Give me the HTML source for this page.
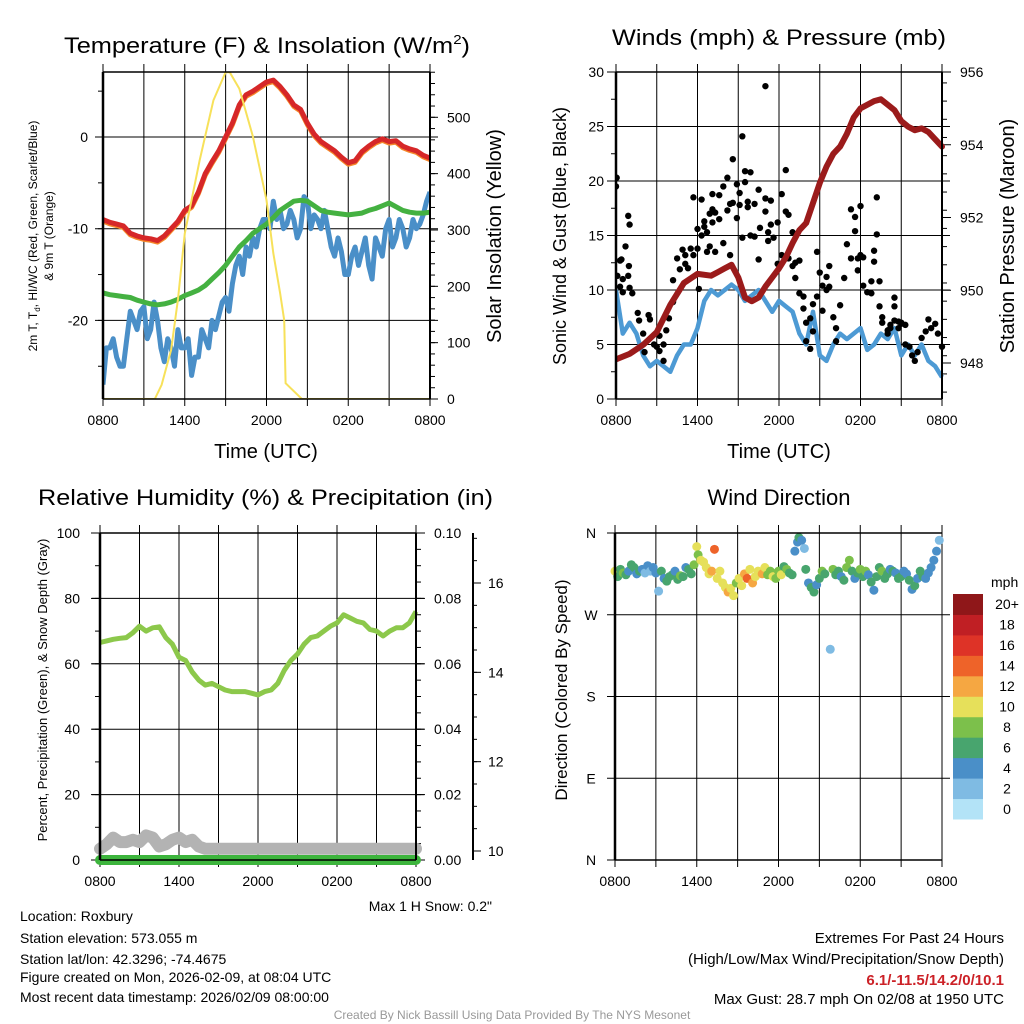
<!DOCTYPE html>
<html><head><meta charset="utf-8"><style>
html,body{margin:0;padding:0;background:#fff}
svg{display:block;font-family:"Liberation Sans",Arial,sans-serif}
</style></head><body>
<svg id="fig" width="1024" height="1024" viewBox="0 0 1024 1024" xmlns="http://www.w3.org/2000/svg">
<g>
<text x="64" y="53" font-size="22" textLength="406" lengthAdjust="spacingAndGlyphs">Temperature (F) &amp; Insolation (W/m<tspan font-size="13" dy="-9">2</tspan><tspan dy="9">)</tspan></text>
<text x="612" y="45" font-size="22" textLength="334" lengthAdjust="spacingAndGlyphs">Winds (mph) &amp; Pressure (mb)</text>
<text x="38" y="505" font-size="22" textLength="455" lengthAdjust="spacingAndGlyphs">Relative Humidity (%) &amp; Precipitation (in)</text>
<text x="779" y="505" font-size="22" text-anchor="middle">Wind Direction</text>
</g>
<g id="p1"></g>
<g id="p2"></g>
<g id="p3"></g>
<g id="p4"></g>
<g font-size="14">
<text x="20" y="921">Location: Roxbury</text>
<text x="20" y="943">Station elevation: 573.055 m</text>
<text x="20" y="964">Station lat/lon: 42.3296; -74.4675</text>
<text x="20" y="982">Figure created on Mon, 2026-02-09, at 08:04 UTC</text>
<text x="20" y="1002">Most recent data timestamp: 2026/02/09 08:00:00</text>
<text x="492" y="911" text-anchor="end">Max 1 H Snow: 0.2"</text>
<text x="1004" y="943" text-anchor="end" font-size="15">Extremes For Past 24 Hours</text>
<text x="1004" y="964" text-anchor="end" font-size="15">(High/Low/Max Wind/Precipitation/Snow Depth)</text>
<text x="1004" y="985" text-anchor="end" font-size="15" font-weight="bold" fill="#cc2127">6.1/-11.5/14.2/0/10.1</text>
<text x="1004" y="1004" text-anchor="end" font-size="15">Max Gust: 28.7 mph On 02/08 at 1950 UTC</text>
<text x="512" y="1019" text-anchor="middle" font-size="12" fill="#999">Created By Nick Bassill Using Data Provided By The NYS Mesonet</text>
</g>
</svg>
<script>
// ---- data (hours since 0800 UTC) ----
const xTickLabels = ["0800","1400","2000","0200","0800"];
const halfHours = Array.from({length:49},(_,i)=>i*0.5);
const quarterHours = Array.from({length:97},(_,i)=>i*0.25);
const tempRed = [-9,-9.3,-9.5,-9.7,-10.5,-10.8,-11,-11.1,-11.3,-10.8,-10,-9.2,-8,-7.5,-6,-4,-2.7,-1.5,0,1.5,3.5,4.6,5,5.5,6,6.2,5.5,4.6,3.5,3,1.5,0.3,-0.5,-1,-1.5,-2.2,-2.8,-2.6,-1.6,-1,-0.5,-0.2,-0.5,-0.4,-1,-1.3,-1.5,-2,-2.3];
const dewGreen = [-17,-17.2,-17.3,-17.4,-17.5,-17.8,-18,-18.2,-18.3,-18.2,-18,-17.7,-17.3,-17,-16.7,-16.2,-15.5,-14.8,-14,-13,-12,-11.3,-10.5,-10,-9.5,-8.8,-8,-7.5,-7,-6.9,-7,-7.5,-8,-8.2,-8.3,-8.4,-8.5,-8.4,-8.3,-8,-7.8,-7.5,-7.2,-7.6,-8,-8.2,-8.3,-8.3,-8.2];
const chillBlue = [-27,-23,-23,-22,-24,-25,-25,-22,-19,-20,-21,-19,-18.5,-22,-21,-18,-20,-23,-24.5,-22,-23,-25,-21,-23,-23,-22,-26,-24,-24,-21,-22,-23,-20,-21,-19.5,-18,-17.5,-19,-16,-14,-13,-15,-12,-13,-11,-12,-10,-9,-9,-10,-7,-9,-8,-10,-9.5,-8,-9,-11,-10,-6.5,-7,-10,-8.5,-9,-10,-8,-10,-12,-13,-11,-12.5,-15,-15,-13,-12,-14,-12.5,-11,-14,-15.5,-11,-12,-13,-10,-9,-12,-11,-9,-10,-12,-11,-9,-10,-9.5,-8.5,-7,-6];
const solarTimes = [0,3.8,4.3,5,5.5,6,7.1,8.1,9,9.3,10,11,12,12.5,13,13.3,13.4,14.6,24];
const solarVals = [0,0,25,87,176,294,424,530,580,580,551,466,353,259,188,140,28,0,0];
const presTimes = [0,1,2,3,4,5,6,7,7.5,8,8.5,9,9.5,10,10.5,11,11.5,12,12.5,13,13.5,14,14.5,15,15.5,16,16.5,17,17.5,18,18.5,19,19.5,20,20.5,21,21.5,22,22.5,23,23.5,24];
const presVals = [948.1,948.25,948.5,948.85,949.6,950.2,950.45,950.4,950.5,950.6,950.7,950.35,949.8,949.7,949.8,950.1,950.35,950.6,950.9,951.3,951.65,951.85,952.4,952.95,953.4,953.75,953.95,954.3,954.75,955.0,955.1,955.2,955.25,955.1,954.95,954.65,954.5,954.4,954.45,954.35,954.15,953.95];
const windBlue = [10,6,7,6,4,3,3.5,3,2.5,4,5,5,6.5,9,10,9.5,10,10.5,10,9,9.5,10,9,8,9,8.5,8,6,5,8,4,3.5,5,6,5.5,6,6.5,4.5,5,6,5.5,6.5,4,5,4,5,3.5,3,2];
const gustTimes = [0,0.05,0.1,0.3,0.3,0.4,0.5,0.5,0.7,0.9,0.9,0.95,1,1,1.2,1.6,1.7,2,2.1,2.4,2.5,2.8,3,3.2,3.2,3.5,3.5,3.7,3.9,4.2,4.2,4.5,4.7,4.9,5.1,5.1,5.3,5.5,5.7,5.7,6,6,6.1,6.3,6.3,6.5,6.5,6.7,6.7,6.9,6.9,7.1,7.1,7.1,7.3,7.3,7.6,7.6,7.9,7.9,8.2,8.2,8.4,8.4,8.6,8.6,8.9,8.9,9.1,9.1,9.3,9.3,9.5,9.5,9.7,9.7,9.9,9.9,10.2,10.2,10.5,10.5,10.6,11,11,11,11.2,11.2,11.4,11.4,11.6,11.9,11.9,12.2,12.2,12.5,12.5,12.7,12.7,13,13,13.2,13.2,13.5,13.5,13.8,13.8,14,14,14.3,14.3,14.5,14.5,14.8,14.8,15,15.2,15.2,15.5,15.5,15.7,15.7,16,16.2,16.2,16.5,16.8,17,17.3,17.3,17.6,17.6,17.8,17.8,18,18,18.2,18.2,18.5,18.8,18.8,19,19,19.2,19.2,19.4,19.4,19.6,19.6,20,20,20.2,20.2,20.5,20.5,20.5,20.8,20.8,21,21,21.3,21.3,21.6,21.8,22,22.2,22.5,22.8,23,23.2,23.5,23.7,24];
const gustVals = [19.5,20.3,11.3,12.7,10.3,12.8,9.8,11,14,16.8,11.3,12.2,16,10.2,9.7,7.9,7.2,6.0,4.3,7.7,7.3,5.0,4.8,4.4,5.8,3.5,5.0,6.3,7.4,8.9,10.9,12.9,11.9,13.7,12.4,13.2,12.0,13.8,18.5,13.2,13.8,15.6,10.1,15.0,18.3,16.3,15.8,13.5,15.3,17.0,14.0,18.8,17.4,16.2,17.1,13.5,18.7,16.5,19.5,14.3,17.3,20.3,17.9,13.2,22.0,18.0,19.7,16.6,18.9,17.8,24.1,14.8,20.9,19.9,17.6,18.1,20.8,15.0,17.9,14.9,19.2,12.8,15.7,28.7,18.4,17.2,15.3,14.5,16.0,18.2,14.8,16.2,12.4,13.2,18.8,21.0,17.2,12.9,16.9,12.2,15.3,11.1,12.5,9.7,12.7,8.3,9.4,7.0,5.3,4.6,7.4,6.2,8.7,9.4,13.5,11.6,10.4,8.1,11.2,10.0,12.2,10.3,7.5,6.5,5.3,8.6,11.1,14.2,17.4,12.9,15.4,16.7,11.8,12.9,17.7,13.2,10.4,13.0,9.8,10.8,9.7,13.6,12.6,15.1,18.5,8.5,10.8,7.5,7.0,6.3,6.0,6.8,6.5,7.2,9.3,8.5,6.5,7.1,6.9,7.0,5.0,6.8,4.8,4.0,3.5,4.3,5.6,6.2,7.3,6.5,6.9,6.0,4.8,3.5];
const rhVals = [66.5,67,67.5,67.8,68,69.5,71.5,70,71,71.3,68,66,62,61,57.5,55,53.5,54,53,52,51.5,51.5,51.5,51,50.5,51.5,52,54,58,61,63,66,68,68.5,70,71.5,72.5,75,74,73,72.5,70.5,70,68.5,70,71,71,72.5,76];
const snowTimes = [0,0.5,1,1.5,2,2.5,3,3.5,4,4.5,5,5.5,6,6.5,7,7.5,8,24];
const snowVals = [10.05,10.15,10.3,10.2,10.2,10.25,10.2,10.35,10.3,10.1,10.15,10.25,10.3,10.2,10.25,10.1,10.05,10.05];
const precipVals = [0,0];
const dirTimes = [0,0.2,0.4,0.6,0.8,1,1.2,1.4,1.6,1.8,2,2.2,2.4,2.6,2.8,3,3.2,3.4,3.6,3.8,4,4.2,4.4,4.6,4.8,5,5.2,5.4,5.6,5.8,6,6.1,6.3,6.5,6.7,6.9,7.1,7.3,7.5,7.7,7.9,8.1,8.3,8.5,8.7,8.9,9.1,9.3,9.5,9.7,9.9,10.1,10.3,10.5,10.8,11,11.2,11.4,11.6,11.8,12,12.2,12.4,12.6,12.8,13,13.2,13.4,13.5,13.7,13.9,14,14.2,14.4,14.6,14.8,15,15.2,15.4,15.8,16,16.2,16.4,16.6,16.8,17,17.2,17.4,17.6,17.8,18,18.2,18.4,18.6,18.8,19,19.2,19.4,19.6,19.8,20,20.2,20.4,20.6,20.8,21,21.2,21.4,21.6,21.8,22,22.2,22.4,22.6,22.8,23,23.2,23.4,23.6,23.8,24];
const dirDeg = [318,312,320,316,314,318,325,322,315,318,320,316,324,318,322,316,296,318,310,307,312,314,318,309,313,312,322,320,315,325,345,336,330,328,322,315,318,342,310,318,305,300,295,299,291,305,310,302,315,310,320,305,312,318,315,322,314,318,312,310,318,314,323,320,316,314,340,350,355,352,343,320,305,300,295,303,310,318,315,232,320,314,318,312,308,322,330,318,310,316,320,312,318,314,306,297,312,322,318,310,315,320,318,316,310,312,318,315,308,298,302,310,318,312,310,316,322,330,340,352];
const dirSpd = [9,6,5,7,6,4,5,6,4,6,3,2,3,2,3,4,2,5,4,5,6,5,4,6,7,5,4,6,5,7,9,8,10,10,9,10,11,13,10,9,10,10,12,10,9,8,10,9,12,14,10,11,9,10,12,9,8,7,9,7,8,9,6,7,6,5,4,4,5,4,2,5,4,5,6,4,5,7,6,2,7,5,6,4,6,7,8,5,4,6,7,5,7,4,5,4,6,5,7,6,5,4,5,4,6,5,4,3,5,4,6,4,5,6,4,3,4,3,4,2,3];
const speedLabels = ["0","2","4","6","8","10","12","14","16","18","20+"];
const speedColors = ["#b3e3f7","#7fbbe3","#4a8fc8","#48a56e","#7cc04b","#e6e05a","#f5a742","#ee6329","#de3327","#c01f24","#8f1719"];

const NS="http://www.w3.org/2000/svg";
function mk(parent,tag,attrs,text){const e=document.createElementNS(NS,tag);for(const k in attrs)e.setAttribute(k,attrs[k]);if(text!==undefined)e.textContent=text;parent.appendChild(e);return e;}
function lin(d0,d1,r0,r1){return v=>r0+(v-d0)*(r1-r0)/(d1-d0);}
function pathFrom(xs,ys,fx,fy){const n=Math.min(xs.length,ys.length);let s="";for(let i=0;i<n;i++)s+=(i?"L":"M")+fx(xs[i]).toFixed(1)+","+fy(ys[i]).toFixed(1);return s;}

function frame(g,L,R,T,B,hLines){
  const fx=lin(0,24,L,R);
  for(let h=0;h<=24;h+=3){
    const x=fx(h);
    const l=mk(g,"line",{x1:x,y1:T-8,x2:x,y2:B+7,stroke:"#000","stroke-width":1});
    
    
  }
  hLines.forEach(y=>{
    const l=mk(g,"line",{x1:L-8,y1:y,x2:R+8,y2:y,stroke:"#000","stroke-width":1});
    
    
  });
  xTickLabels.forEach((s,i)=>{
    const t=mk(g,"text",{x:fx(i*6),y:B+26,"font-size":14,"text-anchor":"middle"},s);
    
    
  });
  return fx;
}
function border(g,L,R,T,B){
  mk(g,"line",{x1:L,y1:T,x2:R,y2:T,stroke:"#000","stroke-width":1.5});
  mk(g,"line",{x1:L,y1:B,x2:R,y2:B,stroke:"#000","stroke-width":1.5});
  const a=mk(g,"line",{x1:L,y1:T,x2:L,y2:B,stroke:"#000","stroke-width":2.5});
  
  
  const b=mk(g,"line",{x1:R,y1:T,x2:R,y2:B,stroke:"#000","stroke-width":2});
  
  
}
function ticks(g,x,ys,dir,len){ys.forEach(y=>mk(g,"line",{x1:x,y1:y,x2:x+dir*len,y2:y,stroke:"#000","stroke-width":1}));}
function rotText(g,x,y,size,s,name){const t=mk(g,"text",{x:x,y:y,"font-size":size,"text-anchor":"middle",transform:`rotate(-90 ${x} ${y})`},s);return t;}

// ---- Panel 1 ----
(function(){
  const g=document.getElementById("p1");
  const L=103,R=430,T=72,B=399;
  const fy=lin(0,-10,137,228.7), fs=lin(0,500,399,117.3);
  const fx=frame(g,L,R,T,B,[fy(0),fy(-10),fy(-20)]);
  const minor=[];for(let v=5;v>=-25;v-=5)minor.push(fy(v));ticks(g,L,minor,-1,5);
  const rmin=[];for(let v=0;v<=580;v+=20)rmin.push(fs(v));ticks(g,R,rmin,1,5);
  ticks(g,R,[0,100,200,300,400,500].map(fs),1,8);
  [0,-10,-20].forEach(v=>{const t=mk(g,"text",{x:88,y:fy(v)+5,"font-size":14,"text-anchor":"end"},String(v));});
  [0,100,200,300,400,500].forEach(v=>{const t=mk(g,"text",{x:447,y:fs(v)+5,"font-size":14},String(v));});
  const cp=mk(g,"clipPath",{id:"c1"});mk(cp,"rect",{x:L,y:T,width:R-L,height:B-T});
  const d=mk(g,"g",{"clip-path":"url(#c1)"});
  const blue=mk(d,"path",{d:pathFrom(quarterHours,chillBlue,fx,fy),fill:"none",stroke:"#4a8fc8","stroke-width":5,"stroke-linejoin":"round"});
  
  const gr=mk(d,"path",{d:pathFrom(halfHours,dewGreen,fx,fy),fill:"none",stroke:"#44b141","stroke-width":5,"stroke-linejoin":"round"});
  
  const or=mk(d,"path",{d:pathFrom(halfHours,tempRed,fx,v=>fy(v)+1.5),fill:"none",stroke:"#f5872a","stroke-width":5,"stroke-linejoin":"round"});
  
  const rd=mk(d,"path",{d:pathFrom(halfHours,tempRed,fx,fy),fill:"none",stroke:"#d62728","stroke-width":5,"stroke-linejoin":"round"});
  
  const so=mk(d,"path",{d:pathFrom(solarTimes,solarVals,fx,fs),fill:"none",stroke:"#f7e15a","stroke-width":2});
  
  border(g,L,R,T,B);
  const yt=mk(g,"text",{x:37,y:236,"font-size":12,"text-anchor":"middle",transform:"rotate(-90 37 236)"});
  
  
  yt.innerHTML='2m T, T<tspan font-size="8" dy="3">d</tspan><tspan dy="-3">, HI/WC (Red, Green, Scarlet/Blue)</tspan>';
  rotText(g,53,236,12,"& 9m T (Orange)","y-axis-title-line2");
  rotText(g,501,236,20,"Solar Insolation (Yellow)","y2-axis-title");
  const xt=mk(g,"text",{x:266,y:458,"font-size":20,"text-anchor":"middle"},"Time (UTC)");
  
})();

// ---- Panel 2 ----
(function(){
  const g=document.getElementById("p2");
  const L=616,R=942,T=72,B=399;
  const fy=lin(0,30,399,72), fp=lin(948,956,363,72);
  const fx=frame(g,L,R,T,B,[5,10,15,20,25].map(fy));
  const lm=[];for(let v=0;v<=30;v+=2.5)lm.push(fy(v));ticks(g,L,lm,-1,5);
  ticks(g,L,[0,5,10,15,20,25,30].map(fy),-1,9);
  const rm=[];for(let v=947.2;v<=956;v+=0.5)rm.push(fp(v));ticks(g,R,rm,1,5);
  ticks(g,R,[948,950,952,954,956].map(fp),1,9);
  [0,5,10,15,20,25,30].forEach(v=>{const t=mk(g,"text",{x:604,y:fy(v)+5,"font-size":14,"text-anchor":"end"},String(v));});
  [948,950,952,954,956].forEach(v=>{const t=mk(g,"text",{x:960,y:fp(v)+5,"font-size":14},String(v));});
  const cp=mk(g,"clipPath",{id:"c2"});mk(cp,"rect",{x:L,y:T-5,width:R-L+5,height:B-T+5});
  const d=mk(g,"g",{"clip-path":"url(#c2)"});
  const bl=mk(d,"path",{d:pathFrom(halfHours,windBlue,fx,fy),fill:"none",stroke:"#4d9ad4","stroke-width":4.5,"stroke-linejoin":"round"});
  
  const ng=Math.min(gustTimes.length,gustVals.length);
  for(let i=0;i<ng;i++){
    const c=mk(d,"circle",{cx:fx(gustTimes[i]),cy:fy(gustVals[i]),r:3.2,fill:"#000"});
    
    
  }
  const pr=mk(d,"path",{d:pathFrom(presTimes,presVals,fx,fp),fill:"none",stroke:"#9b1b1b","stroke-width":6,"stroke-linejoin":"round","stroke-linecap":"round"});
  
  border(g,L,R,T,B);
  rotText(g,566,236,18,"Sonic Wind & Gust (Blue, Black)","y-axis-title");
  rotText(g,1014,236,20,"Station Pressure (Maroon)","y2-axis-title");
  const xt=mk(g,"text",{x:779,y:458,"font-size":20,"text-anchor":"middle"},"Time (UTC)");
  
})();

// ---- Panel 3 ----
(function(){
  const g=document.getElementById("p3");
  const L=100,R=416,T=533,B=860;
  const fy=lin(0,100,860,533), fpr=lin(0,0.1,860,533), fsn=lin(10,16,851,583);
  const fx=frame(g,L,R,T,B,[20,40,60,80].map(fy));
  const lm=[];for(let v=0;v<=100;v+=10)lm.push(fy(v));ticks(g,L,lm,-1,5);
  ticks(g,L,[0,20,40,60,80,100].map(fy),-1,9);
  const rm=[];for(let v=0;v<=0.1;v+=0.005)rm.push(fpr(v));ticks(g,R,rm,1,5);
  ticks(g,R,[0,0.02,0.04,0.06,0.08,0.1].map(fpr),1,9);
  [0,20,40,60,80,100].forEach(v=>{const t=mk(g,"text",{x:80,y:fy(v)+5,"font-size":14,"text-anchor":"end"},String(v));});
  ["0.00","0.02","0.04","0.06","0.08","0.10"].forEach((s,i)=>{const t=mk(g,"text",{x:434,y:fpr(i*0.02)+5,"font-size":14},s);});
  const ax=mk(g,"line",{x1:473,y1:533,x2:473,y2:860,stroke:"#000","stroke-width":2});
  
  const sm=[];for(let v=10;v<=17;v+=0.5)sm.push(fsn(v));ticks(g,473,sm,1,4);
  ticks(g,473,[10,12,14,16].map(fsn),1,8);
  [10,12,14,16].forEach(v=>{const t=mk(g,"text",{x:488,y:fsn(v)+5,"font-size":14},String(v));});
  const sn=mk(g,"path",{d:pathFrom(snowTimes,snowVals,fx,fsn),fill:"none",stroke:"#b3b3b3","stroke-width":12,"stroke-linejoin":"round","stroke-linecap":"round"});
  
  const pc=mk(g,"path",{d:pathFrom([0,24],precipVals,fx,fpr),fill:"none",stroke:"#3db53d","stroke-width":10,"stroke-linecap":"round"});
  
  const rh=mk(g,"path",{d:pathFrom(halfHours,rhVals,fx,fy),fill:"none",stroke:"#8cc84b","stroke-width":5,"stroke-linejoin":"round"});
  
  border(g,L,R,T,B);
  rotText(g,47,690,13,"Percent, Precipitation (Green), & Snow Depth (Gray)","y-axis-title");
})();

// ---- Panel 4 ----
(function(){
  const g=document.getElementById("p4");
  const L=615,R=942,T=533,B=860;
  const fd=lin(360,0,533,860);
  const fx=frame(g,L,R,T,B,[270,180,90].map(fd));
  mk(g,"line",{x1:L-8,y1:T,x2:L,y2:T,stroke:"#000"});mk(g,"line",{x1:L-8,y1:B,x2:L,y2:B,stroke:"#000"});
  ["N","W","S","E","N"].forEach((s,i)=>{const t=mk(g,"text",{x:591,y:fd(360-i*90)+5,"font-size":14,"text-anchor":"middle"},s);});
  const nd=Math.min(dirTimes.length,dirDeg.length,dirSpd.length);
  for(let i=0;i<nd;i++){
    const bin=Math.min(10,Math.max(0,Math.floor((dirSpd[i]+1)/2)));
    const c=mk(g,"circle",{cx:fx(dirTimes[i]),cy:fd(dirDeg[i]),r:4.5,fill:speedColors[bin]});
    
    
  }
  mk(g,"line",{x1:L,y1:T,x2:R,y2:T,stroke:"#000","stroke-width":1.5});
  mk(g,"line",{x1:L,y1:B,x2:R,y2:B,stroke:"#000","stroke-width":1.5});
  mk(g,"line",{x1:L,y1:T,x2:L,y2:B,stroke:"#000","stroke-width":2.5});
  rotText(g,567,690,17,"Direction (Colored By Speed)","y-axis-title");
  const lg=mk(g,"g",{});
  
  
  const t0=mk(lg,"text",{x:991,y:587,"font-size":14},"mph");
  
  const bh=(819-594)/11;
  speedColors.forEach((c,i)=>{
    const y=594+(10-i)*bh;
    const r=mk(lg,"rect",{x:953,y:y,width:30,height:bh+0.5,fill:c});
    
    
    const t=mk(lg,"text",{x:1007,y:y+bh/2+5,"font-size":14,"text-anchor":"middle"},speedLabels[i]);
    
    
  });
})();
</script>
</body></html>
